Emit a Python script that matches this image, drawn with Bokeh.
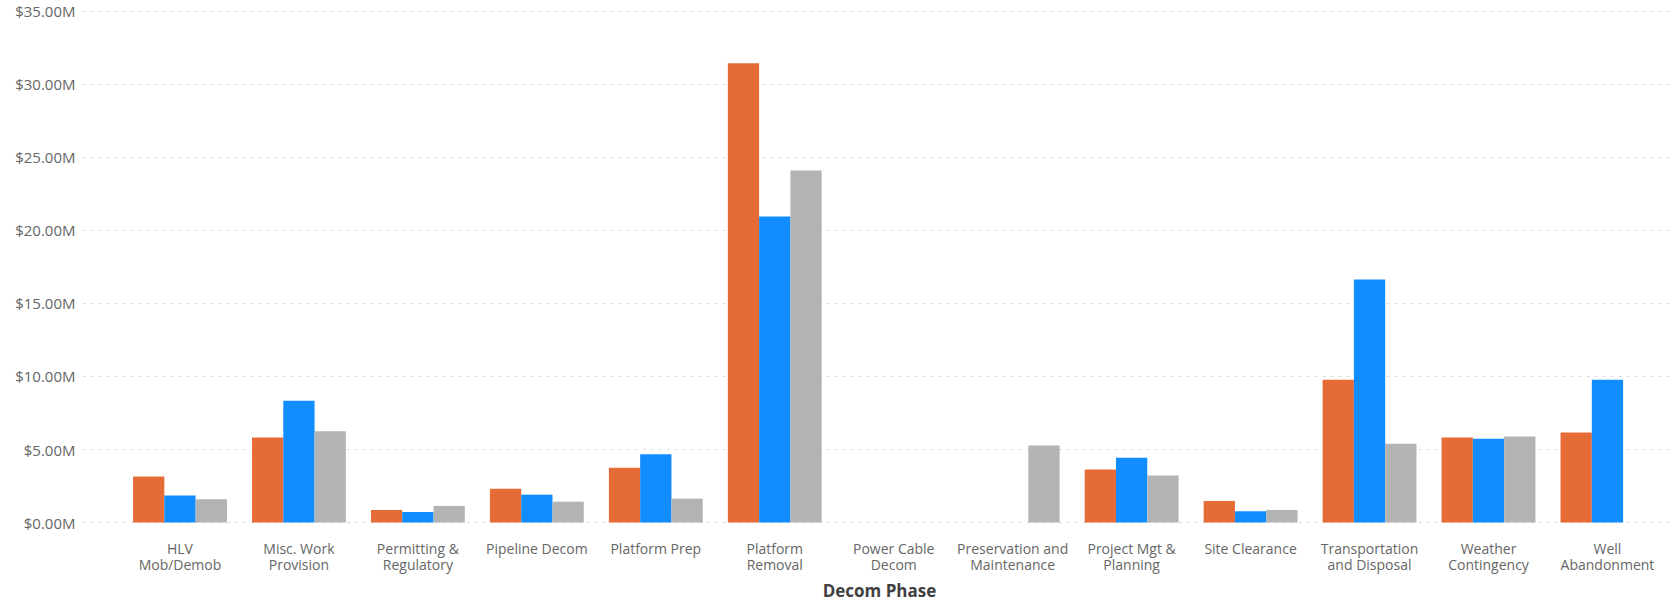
import math
from bokeh.plotting import figure
from bokeh.models import ColumnDataSource, Range1d, FixedTicker, PrintfTickFormatter, Title
from bokeh.transform import dodge
from bokeh.embed import file_html
from bokeh.resources import INLINE

nan = float("nan")

categories = ["HLV Mob/Demob", "Misc. Work Provision", "Permitting & Regulatory",
              "Pipeline Decom", "Platform Prep", "Platform Removal", "Power Cable Decom",
              "Preservation and Maintenance", "Project Mgt & Planning", "Site Clearance",
              "Transportation and Disposal", "Weather Contingency", "Well Abandonment"]
tick_labels = ["HLV\nMob/Demob", "Misc. Work\nProvision", "Permitting &\nRegulatory",
               "Pipeline Decom", "Platform Prep", "Platform\nRemoval", "Power Cable\nDecom",
               "Preservation and\nMaintenance", "Project Mgt &\nPlanning", "Site Clearance",
               "Transportation\nand Disposal", "Weather\nContingency", "Well\nAbandonment"]

# values in $ millions
series_1 = [3.16, 5.82, 0.86, 2.32, 3.75, 31.43, nan, nan, 3.64, 1.48, 9.78, 5.82, 6.16]
series_2 = [1.86, 8.34, 0.73, 1.91, 4.68, 20.95, nan, nan, 4.43, 0.77, 16.63, 5.73, 9.78]
series_3 = [1.59, 6.25, 1.14, 1.43, 1.64, 24.10, nan, 5.27, 3.23, 0.86, 5.39, 5.89, nan]
y_ticks = [0, 5, 10, 15, 20, 25, 30, 35]
x_title = "Decom Phase"

colors = ["#E66C37", "#118DFF", "#B3B3B3"]
FONT = "Open Sans"

idx = list(range(len(categories)))
src = ColumnDataSource(dict(x=idx, s1=series_1, s2=series_2, s3=series_3, cat=categories))

p = figure(width=1675, height=601, output_backend="svg", toolbar_location=None,
           x_range=Range1d(-0.811, 12.572), y_range=Range1d(-0.2, 35.73),
           min_border=0)
p.min_border_left = 83
p.min_border_right = 0
p.min_border_top = 0
p.min_border_bottom = 74
p.outline_line_color = None
p.background_fill_color = "white"
p.border_fill_color = "white"

bw = 0.263
for off, col, c in zip([-bw, 0, bw], ["s1", "s2", "s3"], colors):
    p.vbar(x=dodge("x", off, range=p.x_range), top=col, bottom=0, width=bw, source=src,
           fill_color=c, line_color=None)

p.xgrid.visible = False
p.ygrid.grid_line_color = "#C8C8C8"
p.ygrid.grid_line_dash = "2 6"
p.ygrid.grid_line_width = 1

p.yaxis.ticker = FixedTicker(ticks=y_ticks)
p.yaxis.formatter = PrintfTickFormatter(format="$%.2fM")
p.yaxis.axis_line_color = None
p.yaxis.major_tick_line_color = None
p.yaxis.minor_tick_line_color = None
p.yaxis.major_tick_out = 0
p.yaxis.minor_tick_out = 0
p.yaxis.major_label_standoff = 8
p.yaxis.major_label_text_font = FONT
p.yaxis.major_label_text_font_size = "15px"
p.yaxis.major_label_text_color = "#666666"

p.xaxis.ticker = FixedTicker(ticks=idx)
p.xaxis.major_label_overrides = {i: t for i, t in zip(idx, tick_labels)}
p.xaxis.axis_line_color = None
p.xaxis.major_tick_line_color = None
p.xaxis.minor_tick_line_color = None
p.xaxis.major_tick_out = 0
p.xaxis.minor_tick_out = 0
p.xaxis.axis_label_standoff = 0
p.xaxis.major_label_standoff = 13
p.xaxis.major_label_text_font = FONT
p.xaxis.major_label_text_font_size = "14px"
p.xaxis.major_label_text_line_height = 0.85
p.xaxis.major_label_text_color = "#666666"

title = Title(text=x_title, align="center", offset=14, standoff=0,
              text_font=FONT, text_font_size="17px", text_font_style="bold",
              text_line_height=0.7, text_color="#404040")
p.add_layout(title, "below")

open("out.html", "w").write(file_html(p, INLINE))
